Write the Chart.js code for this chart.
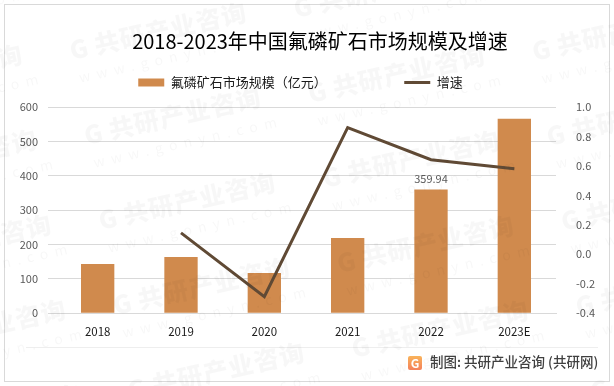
<!DOCTYPE html>
<html>
<head>
<meta charset="utf-8">
<style>
  html, body { margin: 0; padding: 0; background: #fff; }
  canvas { display: block; }
</style>
<script src="https://cdn.jsdelivr.net/npm/chart.js@4"></script>
</head>
<body>
<canvas id="chartCanvas" width="614" height="386"></canvas>
<script>
const categories = ['2018', '2019', '2020', '2021', '2022', '2023E']
const marketSize = [143, 163.5, 117, 219, 359.94, 566]
const growth = [null, 0.145, -0.288, 0.86, 0.642, 0.58]
const leftTicks = [0, 100, 200, 300, 400, 500, 600]
const rightTicks = [-0.4, -0.2, 0, 0.2, 0.4, 0.6, 0.8, 1.0]
const labelled = { 4: '359.94' }

const titleText = '2018-2023年中国氟磷矿石市场规模及增速'
const footerText = '制图: 共研产业咨询 (共研网)'
const barLabel = '氟磷矿石市场规模（亿元）'
const lineLabel = '增速'
const cjk = '"Noto Sans CJK SC", "Noto Sans", sans-serif'

// extra room under the legend
const legendMargin = {
  id: 'legendMargin',
  beforeInit(chart) {
    const fit = chart.legend.fit
    chart.legend.fit = function () {
      fit.bind(chart.legend)()
      this.height += 8
    }
  }
}

// faint tiled watermark, frame, footer and the single data label
const decorations = {
  id: 'decorations',
  afterLayout(chart) {
    // title sits right of the legend centre in the original
    chart.titleBlock.left += 39
  },
  beforeDraw(chart) {
    const c = chart.ctx
    c.save()
    c.strokeStyle = '#d9d9d9'
    c.lineWidth = 1
    c.strokeRect(4.5, 4.5, 605, 377)
    c.strokeStyle = '#eeeeee'
    c.beginPath()
    c.moveTo(26, 347.5)
    c.lineTo(598, 347.5)
    c.stroke()
    c.restore()
  },
  afterDraw(chart) {
    const c = chart.ctx
    // watermark
    for (let col = -1; col < 3; col++) {
      for (let row = -1; row < 6; row++) {
        const x = 72 + col * 224 + row * 14.5
        const y = 60 - col * 42 + row * 85
        c.save()
        c.translate(x, y)
        c.rotate(-0.22)
        c.fillStyle = 'rgba(0,0,0,0.032)'
        c.font = '900 25px ' + cjk
        c.textBaseline = 'alphabetic'
        c.fillText('G', 0, 0)
        c.letterSpacing = '1px'
        c.fillText('共研产业咨询', 25, 0)
        c.font = '14px ' + cjk
        c.letterSpacing = '6.5px'
        c.fillText('www.gonyn.com', 3, 24)
        c.restore()
      }
    }

    // data label
    const xs = chart.scales.x
    const ys = chart.scales.y
    c.save()
    c.fillStyle = '#595959'
    c.font = '11px ' + cjk
    c.textAlign = 'center'
    c.textBaseline = 'bottom'
    Object.keys(labelled).forEach(i => {
      c.fillText(labelled[i], xs.getPixelForValue(+i), ys.getPixelForValue(marketSize[i]) - 5)
    })
    c.restore()

    // footer with logo
    c.save()
    const g = c.createLinearGradient(0, 356, 0, 370)
    g.addColorStop(0, '#f9b35a')
    g.addColorStop(1, '#f4805a')
    c.fillStyle = g
    c.beginPath()
    c.roundRect(408, 356, 14, 14, 2)
    c.fill()
    c.fillStyle = '#fff'
    c.font = 'bold 12px ' + cjk
    c.textAlign = 'center'
    c.textBaseline = 'middle'
    c.fillText('G', 415, 363)
    c.fillStyle = '#404040'
    c.font = '500 13.5px ' + cjk
    c.textAlign = 'left'
    c.fillText(footerText, 430, 362)
    c.restore()
  }
}

new Chart(document.getElementById('chartCanvas'), {
  type: 'bar',
  data: {
    labels: categories,
    datasets: [
      {
        type: 'line',
        label: lineLabel,
        data: growth,
        yAxisID: 'y1',
        borderColor: '#604a35',
        backgroundColor: '#604a35',
        borderWidth: 3,
        pointRadius: 0,
        tension: 0,
        order: 1,
        pointStyle: 'line'
      },
      {
        // trailing ideographic spaces make the gap between the two legend items
        label: barLabel + '\u3000\u3000\u3000\u3000\u3000',
        data: marketSize,
        yAxisID: 'y',
        backgroundColor: '#d08a4d',
        barPercentage: 0.8,
        categoryPercentage: 0.5,
        order: 2,
        pointStyle: 'rect'
      }
    ]
  },
  plugins: [legendMargin, decorations],
  options: {
    responsive: false,
    animation: false,
    layout: { padding: { top: 29, bottom: 43, right: 13 } },
    plugins: {
      tooltip: { enabled: false },
      title: {
        display: true,
        text: titleText,
        color: '#000000',
        font: { family: cjk, size: 20, weight: 'normal' },
        padding: { top: 0, bottom: 4 }
      },
      legend: {
        display: true,
        reverse: true,
        labels: {
          color: '#1a1a1a',
          font: { family: cjk, size: 13 },
          usePointStyle: true,
          pointStyleWidth: 26,
          boxHeight: 8,
          padding: 19
        }
      }
    },
    scales: {
      x: {
        grid: { display: false },
        border: { color: '#d9d9d9' },
        ticks: { color: '#1a1a1a', font: { family: cjk, size: 11.5 }, padding: 4, maxRotation: 0 }
      },
      y: {
        min: 0,
        max: 600,
        afterBuildTicks(s) { s.ticks = leftTicks.map(v => ({ value: v })) },
        afterFit(s) { s.width = 56 },
        grid: { color: '#d9d9d9' },
        border: { display: false },
        ticks: { color: '#595959', font: { family: cjk, size: 11 }, padding: 10 }
      },
      y1: {
        position: 'right',
        min: -0.4,
        max: 1.0,
        afterBuildTicks(s) { s.ticks = rightTicks.map(v => ({ value: v })) },
        afterFit(s) { s.width = 45 },
        grid: { display: false },
        border: { display: false },
        ticks: {
          color: '#595959',
          font: { family: cjk, size: 11 },
          padding: 12,
          callback: v => v.toFixed(1)
        }
      }
    }
  }
})
</script>
</body>
</html>
